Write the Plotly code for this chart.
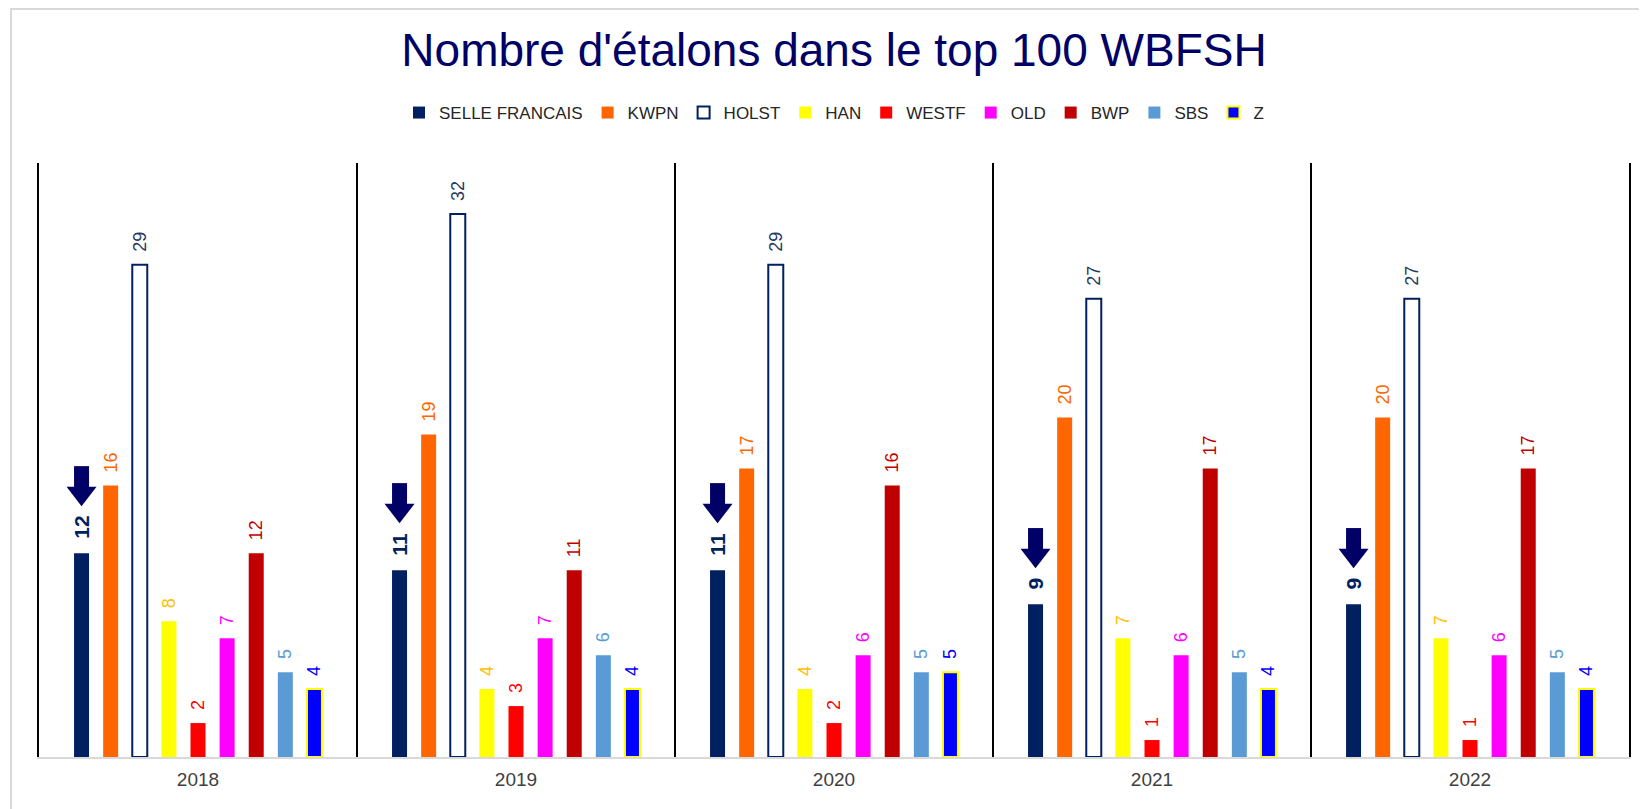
import plotly.graph_objects as go

# ---------------- data ----------------
years = ["2018", "2019", "2020", "2021", "2022"]
series_names = ["SELLE FRANCAIS", "KWPN", "HOLST", "HAN", "WESTF", "OLD", "BWP", "SBS", "Z"]
selle_francais = [12, 11, 11, 9, 9]
kwpn = [16, 19, 17, 20, 20]
holst = [29, 32, 29, 27, 27]
han = [8, 4, 4, 7, 7]
westf = [2, 3, 2, 1, 1]
old = [7, 7, 6, 6, 6]
bwp = [12, 11, 16, 17, 17]
sbs = [5, 6, 5, 5, 5]
z = [4, 4, 5, 4, 4]

series_values = [selle_francais, kwpn, holst, han, westf, old, bwp, sbs, z]

# ---------------- styles ----------------
fill_colors = ["#002060", "#FF6600", "#FFFFFF", "#FFFF00", "#FF0000", "#FF00FF", "#C00000", "#5B9BD5", "#0000FF"]
line_colors = ["#002060", "#FF6600", "#002060", "#FFFF00", "#FF0000", "#FF00FF", "#C00000", "#5B9BD5", "#FFFF00"]
line_widths = [0, 0, 2, 0, 0, 0, 0, 0, 2]
label_colors = ["#002060", "#FF6600", "#1F3864", "#FFC000", "#FF0000", "#FF00FF", "#C00000", "#5B9BD5", "#0000FF"]

W, H = 1647, 809
M_L, M_R, M_T, M_B = 31, 26, 155, 60
Y_MAX = 35
BARGAP = 0.176
BARGROUPGAP = 0.485
ARROW_COLOR = "#000066"
LABEL_FONT = "Liberation Sans, Arial, sans-serif"
SPACER = "<span>\u00a0\u00a0</span>"

fig = go.Figure()

for i, (name, vals) in enumerate(zip(series_names, series_values)):
    is_sf = i == 0
    fig.add_trace(go.Bar(
        name=name,
        x=years,
        y=vals,
        marker=dict(color=fill_colors[i], line=dict(color=line_colors[i], width=line_widths[i])),
        texttemplate=(SPACER + "<b>%{y}</b>" if is_sf else SPACER + "%{y}"),
        textposition="outside",
        textangle=-90,
        constraintext="none",
        cliponaxis=False,
        textfont=dict(family=LABEL_FONT, size=21 if is_sf else 18, color=label_colors[i]),
        hoverinfo="x+y+name",
    ))

# ---------------- arrows above the SELLE FRANCAIS bars ----------------
n_series = len(series_names)
sf_offset = -(1 - BARGAP) * (n_series - 1) / (2 * n_series)
plot_h = H - M_T - M_B
plot_w = W - M_L - M_R
px_per_unit = plot_h / Y_MAX
arrow_x = [k + sf_offset for k in range(len(years))]
tip_y = [v + (25 + 11 * len(str(v))) / px_per_unit for v in selle_francais]
head_y = [t + 13 / px_per_unit for t in tip_y]
shaft_y = [t + 29 / px_per_unit for t in tip_y]

fig.add_trace(go.Scatter(
    x=arrow_x, y=shaft_y, xaxis="x2", yaxis="y", mode="markers",
    marker=dict(symbol="line-ns", size=16, line=dict(color=ARROW_COLOR, width=15)),
    showlegend=False, hoverinfo="skip", cliponaxis=False,
))
fig.add_trace(go.Scatter(
    x=arrow_x, y=head_y, xaxis="x2", yaxis="y", mode="markers",
    marker=dict(symbol="triangle-down", size=26, color=ARROW_COLOR, line=dict(width=0)),
    showlegend=False, hoverinfo="skip", cliponaxis=False,
))

# ---------------- layout ----------------
fig.update_layout(
    width=W, height=H,
    margin=dict(l=M_L, r=M_R, t=M_T, b=M_B, pad=0),
    paper_bgcolor="white", plot_bgcolor="white",
    barmode="group", bargap=BARGAP, bargroupgap=BARGROUPGAP,
    title=dict(
        text="Nombre d'étalons dans le top 100 WBFSH",
        x=0.5, xref="paper", xanchor="center",
        y=1 - 42 / H, yref="container", yanchor="middle",
        font=dict(family="Liberation Sans, Arial, sans-serif", size=46, color="#000066"),
    ),
    legend=dict(
        orientation="h", x=0.5, xanchor="center",
        y=(H - M_B - 105) / plot_h, yanchor="middle",
        font=dict(family="Liberation Sans, Arial, sans-serif", size=17, color="#262626"),
        traceorder="normal",
    ),
    xaxis=dict(
        type="category", range=[-0.5, len(years) - 0.5],
        showgrid=True, tickson="boundaries", gridcolor="#000000", gridwidth=2,
        showline=True, linecolor="#D9D9D9", linewidth=2,
        ticks="", ticklabelstandoff=4,
        tickfont=dict(family=LABEL_FONT, size=19, color="#404040"),
        zeroline=False, fixedrange=True,
    ),
    xaxis2=dict(overlaying="x", range=[-0.5, len(years) - 0.5], visible=False, fixedrange=True),
    yaxis=dict(
        range=[0, Y_MAX], showgrid=False, zeroline=False, showticklabels=False, ticks="",
        showline=True, linecolor="#000000", linewidth=2, mirror=True, fixedrange=True,
    ),
    shapes=[dict(
        type="rect", xref="paper", yref="paper",
        x0=(3 - M_L) / plot_w, x1=1.5, y0=-0.5, y1=(H - M_B - 1) / plot_h,
        line=dict(color="#D9D9D9", width=2), fillcolor="rgba(0,0,0,0)", layer="below",
    )],
    showlegend=True,
)

fig.write_html("out.html")
